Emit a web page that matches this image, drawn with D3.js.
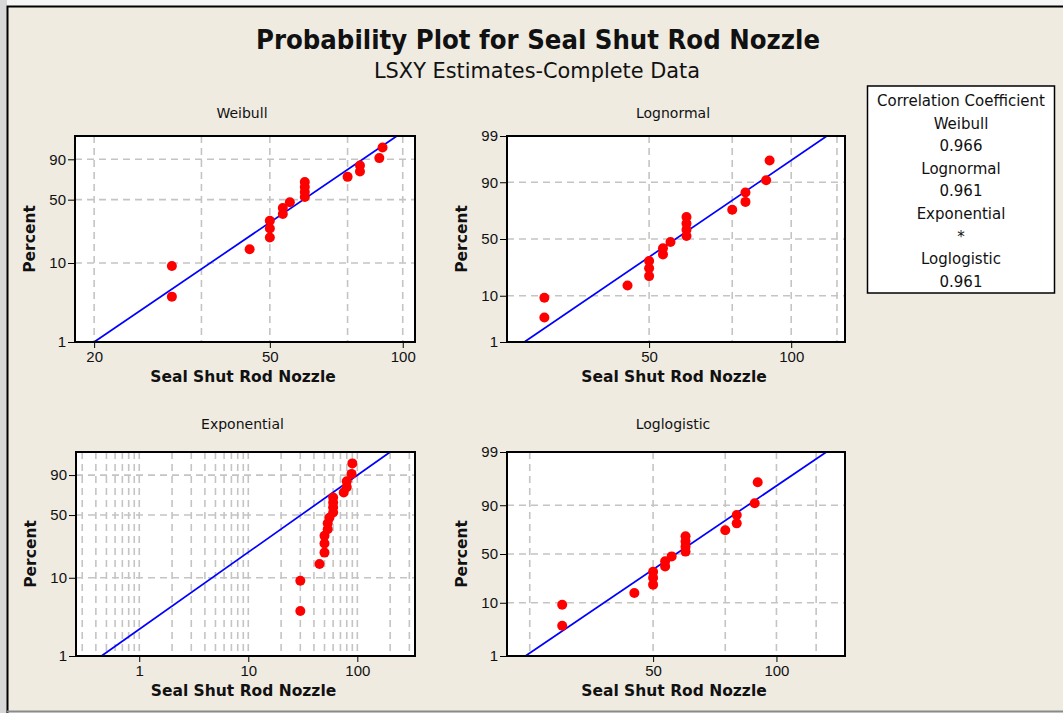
<!DOCTYPE html>
<html>
<head>
<meta charset="utf-8">
<script src="https://cdn.jsdelivr.net/npm/d3@7"></script>
<style>
  body { margin: 0; background: #f6f6f6; }
  svg { display: block; font-family: "DejaVu Sans", Verdana, sans-serif; }
  .tick text { font-size: 15px; fill: #111; }
  .tick line { stroke: #000; }
</style>
</head>
<body>
<svg id="chart-svg" width="1063" height="713"></svg>
<script>
// values
const sealShut = [30, 30, 45, 50, 50, 50, 53.5, 53.5, 55.5, 60, 60, 60, 60, 75, 80, 80, 88.5, 90];
const percents = [3.8, 9.2, 14.7, 20.1, 25.5, 31.0, 36.4, 41.8, 47.3, 52.7, 58.2, 63.6, 69.0, 74.5, 79.9, 85.3, 90.8, 96.2];

const distNames = ['Weibull', 'Lognormal', 'Exponential', 'Loglogistic'];
const corrValues = ['0.966', '0.961', '*', '0.961'];

// fitted line end points [value, percent]
const weibullFit = [[20, 1], [97, 99]];
const lognormalFit = [[27.2, 1], [119, 99]];
const exponentialFit = [[0.45, 1], [200, 99]];
const loglogisticFit = [[24.4, 1], [132.4, 99]];

const weibullXTicks = [20, 50, 100];
const lognormalXTicks = [50, 100];
const exponentialXTicks = [1, 10, 100];
const loglogisticXTicks = [50, 100];

const weibullXGrid = [20, 35, 50, 75, 100];
const lognormalXGrid = [25, 50, 75, 100, 125];
const exponentialXGrid = [0.3, 0.4, 0.5, 0.6, 0.7, 0.8, 0.9, 1, 2, 3, 4, 5, 6, 7, 8, 9,
    10, 20, 30, 40, 50, 60, 70, 80, 90, 100, 200, 300];
const loglogisticXGrid = [25, 50, 75, 100, 125];

const shortYTicks = [1, 10, 50, 90];
const fullYTicks = [1, 10, 50, 90, 99];
const yGrid = [10, 50, 90];


// probability scale transforms
const sev = p => Math.log(-Math.log(1 - p / 100));
const logit = p => Math.log(p / (100 - p));

function probit(pct) {
    const p = pct / 100;
    const a = [-39.69683028665376, 220.9460984245205, -275.9285104469687, 138.3577518672690, -30.66479806614716, 2.506628277459239];
    const b = [-54.47609879822406, 161.5858368580409, -155.6989798598866, 66.80131188771972, -13.28068155288572];
    const c = [-0.007784894002430293, -0.3223964580411365, -2.400758277161838, -2.549732539343734, 4.374664141464968, 2.938163982698783];
    const d = [0.007784695709041462, 0.3224671290700398, 2.445134137142996, 3.754408661907416];
    const tail = q => (((((c[0] * q + c[1]) * q + c[2]) * q + c[3]) * q + c[4]) * q + c[5]) /
        ((((d[0] * q + d[1]) * q + d[2]) * q + d[3]) * q + 1);
    if (p < 0.02425) return tail(Math.sqrt(-2 * Math.log(p)));
    if (p > 1 - 0.02425) return -tail(Math.sqrt(-2 * Math.log(1 - p)));
    const q = p - 0.5, r = q * q;
    return (((((a[0] * r + a[1]) * r + a[2]) * r + a[3]) * r + a[4]) * r + a[5]) * q /
        (((((b[0] * r + b[1]) * r + b[2]) * r + b[3]) * r + b[4]) * r + 1);
}


const panels = [
    { name: 'Weibull', left: 75, right: 415, top: 136, bottom: 342, titleY: 113,
      xDomain: [18.1, 106.6], xTicks: weibullXTicks, xGrid: weibullXGrid,
      yTicks: shortYTicks, tf: sev, fit: weibullFit },
    { name: 'Lognormal', left: 507, right: 845, top: 136, bottom: 342, titleY: 113,
      xDomain: [25, 130], xTicks: lognormalXTicks, xGrid: lognormalXGrid,
      yTicks: fullYTicks, tf: probit, fit: lognormalFit },
    { name: 'Exponential', left: 76, right: 415, top: 452, bottom: 656, titleY: 424,
      xDomain: [0.263, 338], xTicks: exponentialXTicks, xGrid: exponentialXGrid,
      yTicks: shortYTicks, tf: sev, fit: exponentialFit },
    { name: 'Loglogistic', left: 507, right: 845, top: 452, bottom: 656, titleY: 424,
      xDomain: [22, 147], xTicks: loglogisticXTicks, xGrid: loglogisticXGrid,
      yTicks: fullYTicks, tf: logit, fit: loglogisticFit }
];

const svg = d3.select('#chart-svg');

// window chrome + beige background
svg.append('rect').attr('x', 0).attr('y', 0).attr('width', 7).attr('height', 713).attr('fill', '#d8d8d8');
svg.append('rect').attr('x', 7).attr('y', 6).attr('width', 1056).attr('height', 705).attr('fill', '#efebe1');
svg.append('path').attr('d', 'M7.5,713V6.5H1063').attr('fill', 'none').attr('stroke', '#000').attr('stroke-width', 2);
svg.append('line').attr('x1', 7).attr('x2', 1063).attr('y1', 711.5).attr('y2', 711.5)
    .attr('stroke', '#8a8a8a').attr('stroke-width', 2);

svg.append('text').attr('x', 538).attr('y', 49).attr('text-anchor', 'middle')
    .attr('font-size', 27).attr('font-weight', 'bold').attr('fill', '#111')
    .attr('textLength', 564).attr('lengthAdjust', 'spacingAndGlyphs')
    .text('Probability Plot for Seal Shut Rod Nozzle');
svg.append('text').attr('x', 537).attr('y', 78).attr('text-anchor', 'middle')
    .attr('font-size', 21).attr('fill', '#111')
    .attr('textLength', 326).attr('lengthAdjust', 'spacingAndGlyphs')
    .text('LSXY Estimates-Complete Data');


function drawPanel(p) {

    let x = d3.scaleLog().domain(p.xDomain).range([p.left, p.right]);
    let y = d3.scaleLinear().domain([p.tf(1), p.tf(99)]).range([p.bottom, p.top]);

    let g = svg.append('g');

    g.append('rect')
        .attr('x', p.left).attr('y', p.top)
        .attr('width', p.right - p.left).attr('height', p.bottom - p.top)
        .attr('fill', '#fff');

    // dashed grid
    g.selectAll('.vgrid').data(p.xGrid).enter().append('line')
        .attr('x1', d => x(d)).attr('x2', d => x(d))
        .attr('y1', p.top).attr('y2', p.bottom)
        .attr('stroke', '#c4c4c4').attr('stroke-width', 1.6).attr('stroke-dasharray', '7,5');
    g.selectAll('.hgrid').data(yGrid).enter().append('line')
        .attr('x1', p.left).attr('x2', p.right)
        .attr('y1', d => y(p.tf(d))).attr('y2', d => y(p.tf(d)))
        .attr('stroke', '#c4c4c4').attr('stroke-width', 1.6).attr('stroke-dasharray', '7,5');

    const yAxis = d3.axisLeft(y)
        .tickValues(p.yTicks.map(p.tf))
        .tickFormat((d, i) => p.yTicks[i])
        .tickSize(7).tickPadding(2);
    g.append('g').attr('transform', `translate(${p.left},0)`).call(yAxis)
        .call(a => a.select('.domain').remove());

    const xAxis = d3.axisBottom(x)
        .tickValues(p.xTicks)
        .tickFormat(d => d)
        .tickSize(6).tickPadding(3);
    g.append('g').attr('transform', `translate(0,${p.bottom})`).call(xAxis)
        .call(a => a.select('.domain').remove());

    let lineGenerator = d3.line()
        .x(d => x(d[0]))
        .y(d => y(p.tf(d[1])));
    g.append('path').attr('d', lineGenerator(p.fit))
        .attr('fill', 'none').attr('stroke', '#0000ff').attr('stroke-width', 1.7);

    g.selectAll('circle').data(sealShut).enter().append('circle')
        .attr('cx', d => x(d))
        .attr('cy', (d, i) => y(p.tf(percents[i])))
        .attr('r', 5)
        .attr('fill', '#ff0000');

    g.append('rect')
        .attr('x', p.left).attr('y', p.top)
        .attr('width', p.right - p.left).attr('height', p.bottom - p.top)
        .attr('fill', 'none').attr('stroke', '#000').attr('stroke-width', 2);

    const cx = (p.left + p.right) / 2;
    g.append('text').attr('x', cx - 3).attr('y', p.titleY).attr('dy', '0.35em')
        .attr('text-anchor', 'middle').attr('font-size', 14).attr('fill', '#111')
        .text(p.name);
    g.append('text').attr('x', cx - 2).attr('y', p.bottom + 35).attr('dy', '0.35em')
        .attr('text-anchor', 'middle').attr('font-size', 15.5).attr('font-weight', 'bold').attr('fill', '#111')
        .text('Seal Shut Rod Nozzle');
    g.append('text')
        .attr('transform', `translate(${p.left - 45},${(p.top + p.bottom) / 2}) rotate(-90)`)
        .attr('dy', '0.35em')
        .attr('text-anchor', 'middle').attr('font-size', 15.5).attr('font-weight', 'bold').attr('fill', '#111')
        .text('Percent');
}

panels.forEach(drawPanel);


// correlation coefficient box
let legendLines = ['Correlation Coefficient'];
distNames.forEach((n, i) => { legendLines.push(n); legendLines.push(corrValues[i]); });

svg.append('rect').attr('x', 867.5).attr('y', 86).attr('width', 187).attr('height', 207)
    .attr('fill', '#fff').attr('stroke', '#000').attr('stroke-width', 1.5);
svg.selectAll('.legend-line').data(legendLines).enter().append('text')
    .attr('class', 'legend-line')
    .attr('x', 961).attr('y', (d, i) => 100.7 + i * 22.6).attr('dy', '0.35em')
    .attr('text-anchor', 'middle').attr('font-size', 15).attr('fill', '#111')
    .text(d => d);
</script>
</body>
</html>
